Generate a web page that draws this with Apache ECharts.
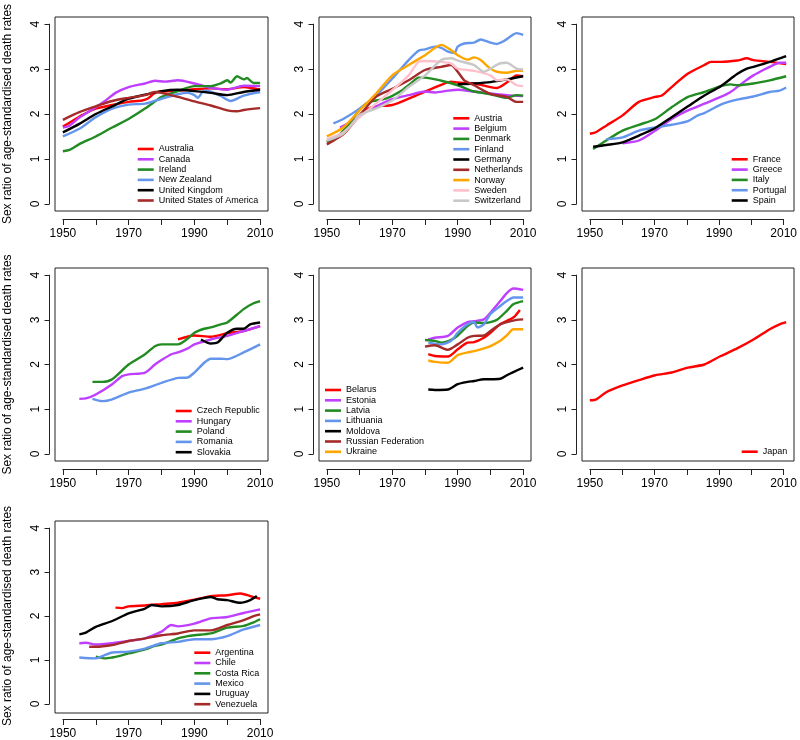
<!DOCTYPE html>
<html><head><meta charset="utf-8">
<script src="https://cdn.jsdelivr.net/npm/echarts@6/dist/echarts.min.js"></script>
<style>html,body{margin:0;padding:0;background:#fff}#c{width:800px;height:740px}</style>
</head><body><div id="c"></div>
<script>
// ---------- data: [year, sex ratio] ----------
const australia = [[1950,1.72],[1953,1.85],[1956,1.98],[1960,2.12],[1965,2.2],[1970,2.27],[1974,2.3],[1976,2.35],[1978,2.47],[1980,2.5],[1985,2.52],[1990,2.55],[1995,2.57],[2000,2.55],[2005,2.6],[2010,2.54]];
const canada = [[1950,1.7],[1952,1.74],[1955,1.92],[1960,2.15],[1963,2.3],[1966,2.47],[1970,2.6],[1975,2.68],[1978,2.74],[1981,2.72],[1985,2.75],[1990,2.68],[1993,2.62],[1996,2.57],[2000,2.54],[2005,2.63],[2010,2.62]];
const ireland = [[1950,1.17],[1952,1.2],[1955,1.33],[1960,1.5],[1965,1.7],[1970,1.89],[1975,2.12],[1978,2.28],[1980,2.38],[1985,2.51],[1990,2.62],[1995,2.62],[1998,2.68],[2000,2.75],[2001,2.7],[2003,2.84],[2005,2.77],[2006,2.8],[2008,2.69],[2010,2.69]];
const newZealand = [[1950,1.5],[1955,1.67],[1960,1.93],[1965,2.12],[1970,2.21],[1975,2.23],[1980,2.34],[1985,2.44],[1988,2.47],[1990,2.42],[1991,2.36],[1993,2.52],[1995,2.5],[1998,2.4],[2001,2.29],[2005,2.41],[2010,2.49]];
const unitedKingdom = [[1950,1.59],[1955,1.78],[1960,2.0],[1965,2.17],[1970,2.34],[1975,2.43],[1980,2.51],[1985,2.54],[1990,2.51],[1995,2.47],[2000,2.42],[2005,2.49],[2010,2.54]];
const usa = [[1950,1.87],[1955,2.04],[1960,2.17],[1965,2.29],[1970,2.36],[1975,2.42],[1978,2.49],[1980,2.47],[1985,2.38],[1990,2.28],[1995,2.19],[2000,2.08],[2003,2.06],[2005,2.09],[2010,2.13]];

const austria = [[1950,1.38],[1955,1.55],[1960,1.97],[1962,2.1],[1965,2.17],[1970,2.2],[1975,2.34],[1980,2.5],[1985,2.65],[1988,2.72],[1990,2.7],[1995,2.68],[2000,2.6],[2002,2.58],[2005,2.7],[2008,2.86],[2010,2.84]];
const belgium = [[1954,1.7],[1958,1.85],[1962,2.05],[1966,2.2],[1970,2.33],[1975,2.42],[1980,2.5],[1983,2.48],[1987,2.52],[1990,2.54],[1995,2.5],[2000,2.46],[2005,2.42],[2010,2.4]];
const denmark = [[1950,1.37],[1953,1.48],[1957,1.8],[1960,2.1],[1963,2.27],[1968,2.34],[1973,2.53],[1976,2.7],[1978,2.81],[1980,2.81],[1985,2.74],[1990,2.64],[1993,2.55],[1995,2.5],[2000,2.44],[2005,2.36],[2008,2.42],[2010,2.41]];
const finland = [[1952,1.79],[1955,1.89],[1960,2.12],[1965,2.41],[1970,2.79],[1975,3.2],[1978,3.41],[1980,3.44],[1983,3.5],[1985,3.47],[1987,3.39],[1989,3.36],[1990,3.5],[1992,3.57],[1995,3.59],[1997,3.66],[2000,3.59],[2002,3.56],[2004,3.62],[2006,3.72],[2008,3.8],[2010,3.76]];
const germany = [[1990,2.66],[1995,2.68],[2000,2.71],[2005,2.77],[2010,2.84]];
const netherlands = [[1950,1.32],[1955,1.56],[1960,1.97],[1965,2.38],[1970,2.56],[1975,2.75],[1980,2.98],[1985,3.05],[1988,3.09],[1990,2.94],[1992,2.75],[1995,2.64],[2000,2.45],[2005,2.38],[2008,2.27],[2010,2.27]];
const norway = [[1950,1.5],[1955,1.7],[1960,2.08],[1965,2.45],[1970,2.86],[1975,3.09],[1980,3.31],[1985,3.54],[1988,3.42],[1990,3.31],[1993,3.21],[1995,3.26],[1997,3.2],[2000,3.01],[2002,2.94],[2005,2.92],[2008,2.96],[2010,2.96]];
const sweden = [[1950,1.44],[1955,1.59],[1960,1.93],[1965,2.23],[1970,2.53],[1975,2.86],[1978,3.16],[1980,3.18],[1985,3.16],[1988,3.12],[1990,3.01],[1995,2.96],[2000,2.86],[2002,2.75],[2005,2.77],[2008,2.64],[2010,2.62]];
const switzerland = [[1950,1.41],[1955,1.56],[1960,1.97],[1965,2.12],[1970,2.3],[1975,2.6],[1980,2.86],[1985,3.2],[1988,3.24],[1990,3.19],[1995,3.09],[1998,2.94],[2000,3.01],[2003,3.13],[2005,3.14],[2008,3.01],[2010,2.99]];

const france = [[1950,1.56],[1952,1.6],[1955,1.74],[1960,1.97],[1965,2.27],[1970,2.38],[1972,2.41],[1975,2.6],[1980,2.9],[1985,3.09],[1987,3.16],[1990,3.16],[1995,3.19],[1998,3.24],[2000,3.2],[2005,3.16],[2010,3.11]];
const greece = [[1960,1.35],[1965,1.41],[1970,1.63],[1975,1.89],[1980,2.08],[1985,2.23],[1990,2.38],[1993,2.49],[1997,2.71],[2000,2.86],[2003,2.98],[2005,3.05],[2008,3.14],[2010,3.14]];
const italy = [[1951,1.22],[1955,1.41],[1960,1.63],[1965,1.76],[1970,1.89],[1975,2.15],[1980,2.38],[1985,2.49],[1990,2.62],[1993,2.66],[1995,2.64],[2000,2.68],[2005,2.75],[2010,2.84]];
const portugal = [[1955,1.44],[1960,1.48],[1965,1.63],[1970,1.7],[1975,1.76],[1980,1.84],[1983,1.97],[1985,2.02],[1990,2.21],[1995,2.32],[2000,2.39],[2005,2.49],[2008,2.52],[2010,2.59]];
const spain = [[1951,1.27],[1955,1.31],[1960,1.37],[1965,1.52],[1970,1.69],[1975,1.93],[1980,2.17],[1985,2.41],[1990,2.62],[1995,2.89],[1998,3.01],[2000,3.05],[2005,3.16],[2008,3.24],[2010,3.29]];

const czechRepublic = [[1985,2.56],[1990,2.65],[1995,2.62],[2000,2.7],[2005,2.75],[2010,2.86]];
const hungary = [[1955,1.23],[1957,1.24],[1960,1.33],[1965,1.56],[1968,1.74],[1970,1.78],[1975,1.82],[1978,2.0],[1980,2.1],[1983,2.23],[1985,2.27],[1988,2.36],[1990,2.45],[1995,2.56],[2000,2.64],[2005,2.75],[2010,2.86]];
const poland = [[1959,1.61],[1962,1.61],[1965,1.67],[1970,2.0],[1975,2.23],[1978,2.41],[1980,2.45],[1985,2.45],[1988,2.58],[1990,2.71],[1993,2.8],[1995,2.83],[1998,2.9],[2000,2.94],[2005,3.24],[2008,3.37],[2010,3.42]];
const romania = [[1959,1.23],[1962,1.18],[1965,1.22],[1970,1.37],[1975,1.46],[1980,1.59],[1985,1.7],[1988,1.71],[1990,1.82],[1993,2.04],[1995,2.13],[1998,2.13],[2000,2.12],[2005,2.27],[2010,2.45]];
const slovakia = [[1992,2.56],[1995,2.47],[1997,2.49],[2000,2.71],[2003,2.8],[2005,2.8],[2007,2.9],[2010,2.94]];

const belarus = [[1981,2.23],[1983,2.19],[1987,2.18],[1990,2.34],[1993,2.49],[1995,2.5],[1998,2.6],[2000,2.71],[2003,2.9],[2007,3.05],[2009,3.22]];
const estonia = [[1981,2.56],[1983,2.6],[1987,2.64],[1990,2.83],[1993,2.95],[1995,2.97],[1998,3.01],[2000,3.16],[2003,3.42],[2005,3.6],[2007,3.7],[2010,3.67]];
const latvia = [[1980,2.55],[1983,2.53],[1985,2.49],[1988,2.55],[1990,2.65],[1993,2.86],[1995,2.94],[1998,2.93],[2000,2.95],[2002,3.0],[2005,3.2],[2007,3.35],[2010,3.42]];
const lithuania = [[1981,2.49],[1985,2.45],[1988,2.53],[1990,2.71],[1993,2.9],[1995,2.95],[1996,2.83],[1998,2.9],[2000,3.13],[2003,3.31],[2005,3.42],[2007,3.5],[2010,3.5]];
const moldova = [[1981,1.44],[1983,1.43],[1987,1.44],[1990,1.56],[1993,1.61],[1995,1.63],[1998,1.67],[2000,1.67],[2003,1.68],[2005,1.76],[2007,1.83],[2010,1.93]];
const russia = [[1980,2.4],[1983,2.43],[1987,2.33],[1990,2.45],[1993,2.6],[1995,2.64],[1998,2.65],[2000,2.75],[2003,2.9],[2005,2.95],[2008,3.0],[2010,3.01]];
const ukraine = [[1981,2.09],[1983,2.06],[1987,2.04],[1990,2.21],[1993,2.27],[1995,2.3],[1998,2.36],[2000,2.41],[2003,2.53],[2005,2.65],[2007,2.79],[2010,2.79]];

const japan = [[1950,1.2],[1952,1.22],[1955,1.38],[1960,1.53],[1965,1.65],[1970,1.76],[1975,1.82],[1980,1.93],[1985,2.0],[1990,2.19],[1995,2.36],[2000,2.56],[2005,2.79],[2008,2.9],[2010,2.95]];

const argentina = [[1966,2.21],[1968,2.2],[1970,2.24],[1975,2.26],[1980,2.29],[1985,2.32],[1990,2.39],[1995,2.47],[2000,2.49],[2004,2.53],[2007,2.47],[2010,2.41]];
const chile = [[1955,1.41],[1957,1.42],[1960,1.38],[1965,1.41],[1970,1.46],[1975,1.52],[1980,1.67],[1983,1.82],[1985,1.79],[1990,1.85],[1995,1.97],[2000,2.0],[2005,2.09],[2010,2.17]];
const costaRica = [[1960,1.11],[1963,1.07],[1965,1.09],[1967,1.12],[1970,1.18],[1975,1.27],[1978,1.35],[1980,1.38],[1985,1.52],[1988,1.57],[1990,1.59],[1995,1.63],[2000,1.76],[2005,1.8],[2008,1.88],[2010,1.95]];
const mexico = [[1955,1.09],[1960,1.07],[1962,1.12],[1965,1.2],[1970,1.22],[1975,1.29],[1980,1.41],[1985,1.44],[1990,1.5],[1995,1.5],[2000,1.57],[2005,1.72],[2010,1.82]];
const uruguay = [[1955,1.61],[1957,1.65],[1960,1.78],[1965,1.91],[1970,2.08],[1975,2.19],[1977,2.27],[1980,2.24],[1985,2.27],[1990,2.38],[1995,2.45],[1997,2.4],[2000,2.38],[2004,2.32],[2007,2.38],[2009,2.47]];
const venezuela = [[1958,1.33],[1960,1.33],[1965,1.37],[1970,1.46],[1975,1.52],[1980,1.59],[1985,1.63],[1990,1.7],[1995,1.7],[2000,1.82],[2005,1.93],[2008,2.02],[2010,2.06]];

const xTicks = [1950, 2010];          // axis range of tick marks
const yTicks = [0, 4];
const yTitle = 'Sex ratio of age-standardised death rates';
const palette = ['#FF0000','#BF3EFF','#228B22','#6495ED','#000000','#A52A2A','#FFA500','#FFC0CB','#C8C8C8'];

const panels = [
  { names:['Australia','Canada','Ireland','New Zealand','United Kingdom','United States of America'],
    data:[australia,canada,ireland,newZealand,unitedKingdom,usa] },
  { names:['Austria','Belgium','Denmark','Finland','Germany','Netherlands','Norway','Sweden','Switzerland'],
    data:[austria,belgium,denmark,finland,germany,netherlands,norway,sweden,switzerland] },
  { names:['France','Greece','Italy','Portugal','Spain'],
    data:[france,greece,italy,portugal,spain] },
  { names:['Czech Republic','Hungary','Poland','Romania','Slovakia'],
    data:[czechRepublic,hungary,poland,romania,slovakia] },
  { names:['Belarus','Estonia','Latvia','Lithuania','Moldova','Russian Federation','Ukraine'],
    data:[belarus,estonia,latvia,lithuania,moldova,russia,ukraine] },
  { names:['Japan'], data:[japan] },
  { names:['Argentina','Chile','Costa Rica','Mexico','Uruguay','Venezuela'],
    data:[argentina,chile,costaRica,mexico,uruguay,venezuela] }
];

// ---------- layout ----------
const boxes = [
  {l:55,t:17,w:213,h:194},{l:319,t:17,w:212,h:194},{l:582,t:17,w:212,h:194},
  {l:55,t:268,w:213,h:193},{l:319,t:268,w:212,h:193},{l:582,t:268,w:212,h:193},
  {l:55,t:521,w:213,h:192}
];
const legendPos = [[137.7,149],[453.3,118.3],[731.7,159.3],[175.7,411],[325,390],[741.7,451.7],[194.3,652.7]];
const ITEM_H = 10.3, ICON_H = 2.6;
const FONT = '"Liberation Sans", Arial, Helvetica, sans-serif';

const xPad = (xTicks[1]-xTicks[0])*0.04, yPad = (yTicks[1]-yTicks[0])*0.04;
const grid = [], xAxis = [], yAxis = [], series = [], legend = [];

panels.forEach((p, i) => {
  const b = boxes[i];
  const ix = (b.w * xPad / (xTicks[1]-xTicks[0]+2*xPad));
  const iy = (b.h * yPad / (yTicks[1]-yTicks[0]+2*yPad));
  grid.push({left:b.l, top:b.t, width:b.w, height:b.h, show:true, borderColor:'#222', borderWidth:1, backgroundColor:'transparent'});
  grid.push({left:b.l+ix, top:b.t+iy, width:b.w-2*ix, height:b.h-2*iy, show:false});
  const gPlot = 2*i, gAxis = 2*i+1;
  xAxis.push({type:'value', gridIndex:gPlot, min:xTicks[0]-xPad, max:xTicks[1]+xPad, show:false});
  yAxis.push({type:'value', gridIndex:gPlot, min:yTicks[0]-yPad, max:yTicks[1]+yPad, show:false});
  xAxis.push({type:'value', gridIndex:gAxis, min:xTicks[0], max:xTicks[1], interval:10, position:'bottom', offset:iy+8,
    axisLine:{show:true, onZero:false, lineStyle:{color:'#222', width:1}},
    axisTick:{show:true, length:6, lineStyle:{color:'#222', width:1}},
    axisLabel:{show:true, margin:9, color:'#000', fontSize:12, fontFamily:FONT,
      formatter: v => ((v - xTicks[0]) % 20 === 0 ? String(v) : '')},
    splitLine:{show:false}});
  const ya = {type:'value', gridIndex:gAxis, min:yTicks[0], max:yTicks[1], interval:1, position:'left', offset:ix+5.5,
    axisLine:{show:true, onZero:false, lineStyle:{color:'#222', width:1}},
    axisTick:{show:true, length:5, lineStyle:{color:'#222', width:1}},
    axisLabel:{show:true, rotate:90, margin:8, color:'#000', fontSize:12, fontFamily:FONT},
    splitLine:{show:false}};
  if (i % 3 === 0) {
    Object.assign(ya, {name:yTitle, nameLocation:'middle', nameRotate:90, nameGap:36,
      nameTextStyle:{color:'#000', fontSize:12, fontFamily:FONT}});
  }
  yAxis.push(ya);
  p.names.forEach((n, k) => {
    series.push({type:'line', name:n, xAxisIndex:gPlot, yAxisIndex:gPlot, data:p.data[k],
      symbol:'none', smooth:0.25, silent:true, animation:false,
      lineStyle:{width:2.4, color:palette[k]}, itemStyle:{color:palette[k]}});
  });
  legend.push({data:p.names, orient:'vertical', left:legendPos[i][0], top:legendPos[i][1]-ITEM_H/2,
    icon:'rect', itemWidth:16, itemHeight:ICON_H, itemGap:0, itemTextGap:9, selectedMode:false, padding:0,
    textStyle:{fontSize:9, lineHeight:ITEM_H, color:'#000', fontFamily:FONT}});
});

const chart = echarts.init(document.getElementById('c'), null, {renderer:'canvas', width:800, height:740});
chart.setOption({backgroundColor:'#fff', animation:false, grid, xAxis, yAxis, series, legend});
</script></body></html>
